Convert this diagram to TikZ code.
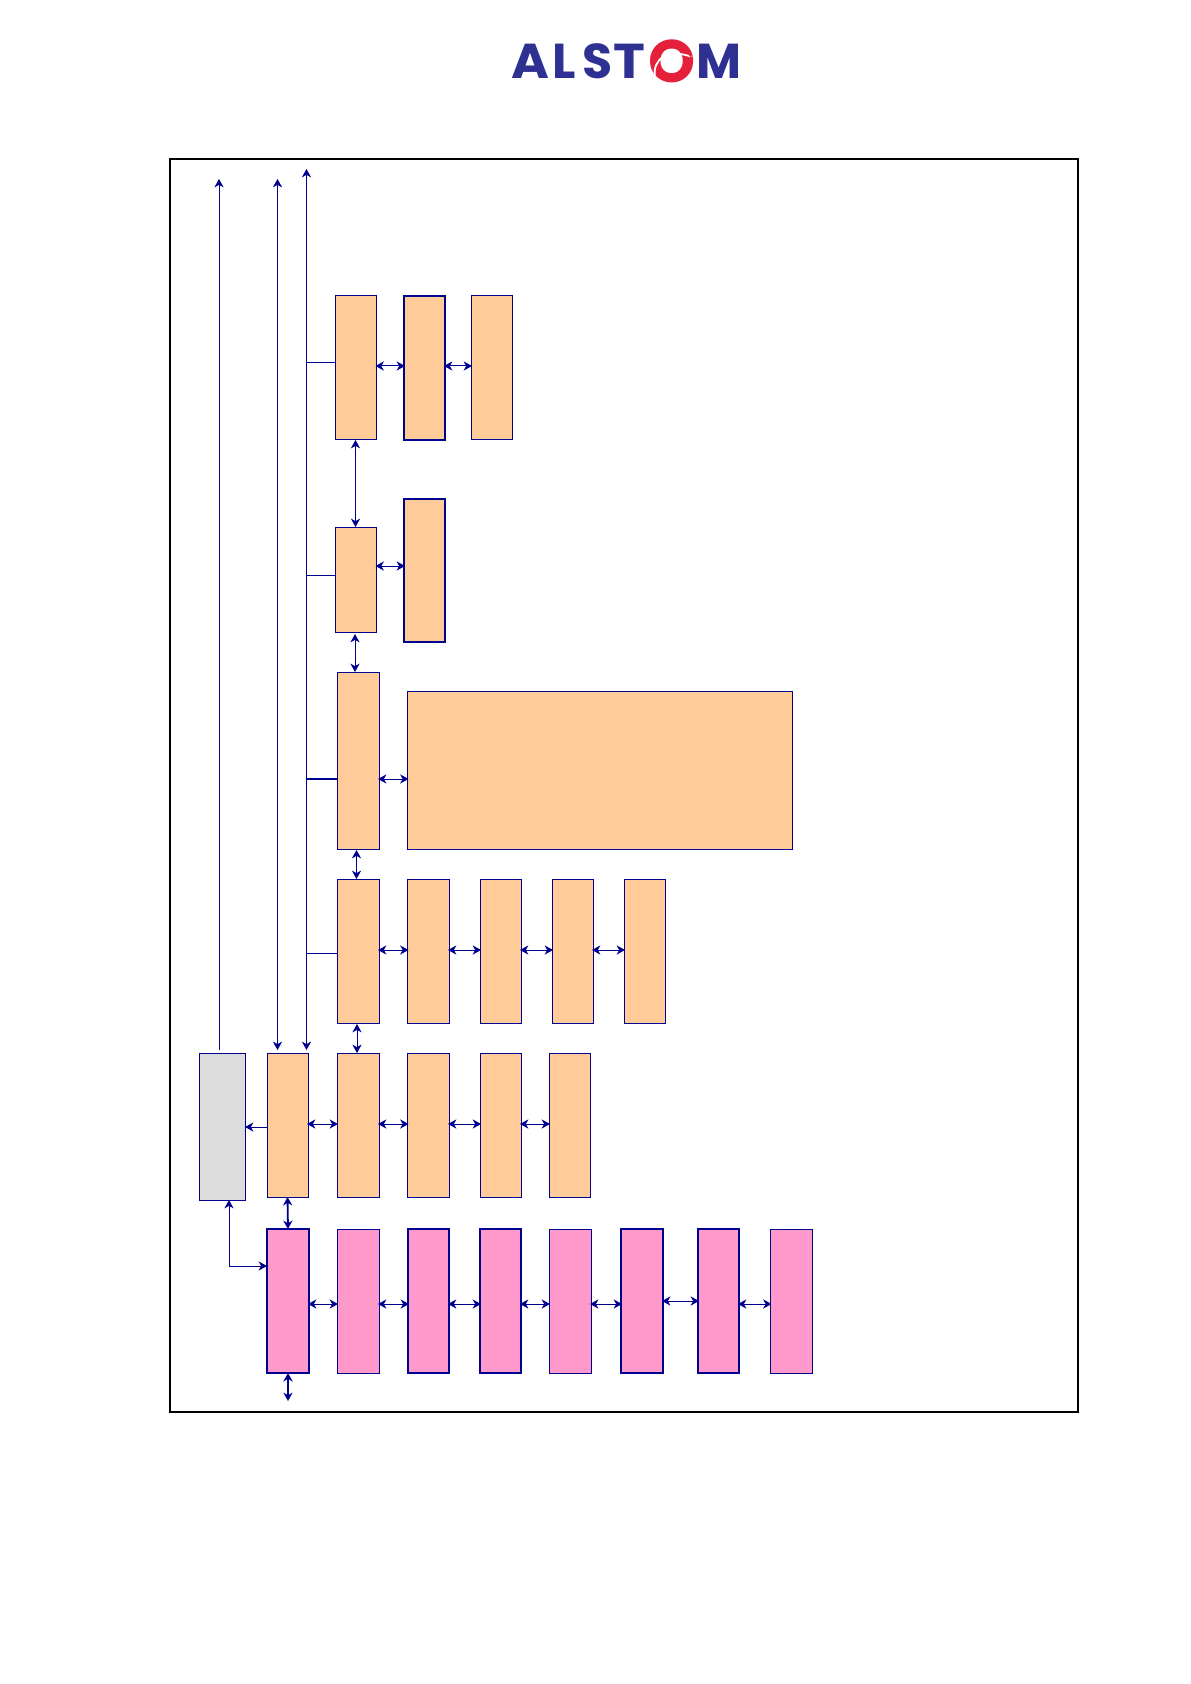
\documentclass[tikz,border=0pt]{standalone}
\usepackage{fontspec}
\newfontfamily\logofont{Poppins}
\usepackage{xcolor}
\usetikzlibrary{arrows.meta,fit}
\definecolor{alNavy}{HTML}{000090}
\definecolor{alOrange}{HTML}{FFCC99}
\definecolor{alPink}{HTML}{FF99CC}
\definecolor{alGrey}{HTML}{DCDCDC}
\definecolor{alLogo}{HTML}{2E3192}
\definecolor{alRed}{HTML}{E5203A}
\tikzset{
  al diagram/.style={x=0.5pt, y=-0.5pt, line cap=butt, line join=miter},
  al frame/.style={draw=black, line width=0.95pt, inner sep=0pt, outer sep=0pt},
  al box/.style={draw=alNavy, line width=0.5pt, inner sep=0pt, outer sep=0pt},
  al orange/.style={al box, fill=alOrange},
  al pink/.style={al box, fill=alPink},
  al grey/.style={al box, fill=alGrey},
  al heavy/.style={line width=0.75pt},
  al line/.style={draw=alNavy, line width=0.5pt},
  al tip/.tip={Stealth[length=4.2pt, width=4.6pt, inset=1.3pt]},
  al arrow/.style={al line, -{al tip}},
  al both/.style={al line, {al tip}-{al tip}, shorten <=-0.5pt, shorten >=-0.5pt},
  al thick both/.style={al line, {al tip}-{al tip}, line width=0.9pt},
  al letter/.style={font=\logofont\bfseries\fontsize{24.5}{25}\selectfont, text=alLogo,
    anchor=base west, inner sep=0pt, outer sep=0pt}
}
\begin{document}
\begin{tikzpicture}[al diagram]
\useasboundingbox (0,0) rectangle (1190,1684);
% logo
\node[al letter, xscale=1.05] (logoA) at (511,79) {A};
\node[al letter] (logoL) at (552,79) {L};
\node[al letter] (logoS) at (582,79) {S};
\node[al letter, xscale=1.1] (logoT) at (613,79) {T};
\node[al letter, text=alRed, font=\logofont\bfseries\fontsize{30}{31}\selectfont] (logoO) at (648,83) {O};
\node[al letter] (logoM) at (696,79) {M};
\draw[white, line width=0.9pt] (655,77) .. controls (652,59) and (668,48) .. (692,57);
\draw[alRed, line width=0.7pt] (664,48) .. controls (676,43) and (688,49) .. (692,59);
% frame
\node[al frame, fit={(170,159)(1078,1412)}] (frame) {};
% first row
\node[al orange, fit={(335.5,296)(376.5,440)}] (ra) {};
\node[al orange, al heavy, fit={(404,296)(445,440)}] (rb) {};
\node[al orange, fit={(471,296)(512.5,440)}] (rc) {};
\node[al orange, fit={(335.5,527)(376.5,632)}] (sa) {};
\node[al orange, al heavy, fit={(404,499)(445,642)}] (sb) {};
\node[al orange, fit={(337,672)(379,849)}] (ta) {};
\node[al orange, fit={(407.5,691)(792.5,849)}] (tb) {};
\foreach \boxname/\xa/\xb in {ua/337/379, ub/407.5/449, uc/480/521, ud/552/593, ue/624/665}
  \node[al orange, fit={(\xa,879)(\xb,1023)}] (\boxname) {};
\node[al grey, fit={(199,1053)(245,1200)}] (grey) {};
\foreach \boxname/\xa/\xb in {va/267/308, vb/337/379, vc/407.5/449, vd/480/521, ve/549/590.5}
  \node[al orange, fit={(\xa,1053)(\xb,1197)}] (\boxname) {};
\foreach \boxname/\xa/\xb/\bw in {wa/267/309/0.75pt, wb/337/379/0.5pt, wc/408/449/0.75pt, wd/480/521/0.75pt, we/549/591/0.5pt, wf/621/663/0.6pt, wg/698/739/0.75pt, wh/770.5/812/0.5pt}
  \node[al pink, line width=\bw, fit={(\xa,1229)(\xb,1373)}] (\boxname) {};
% buses
\coordinate (busa) at (219,179);
\coordinate (busb) at (277.5,179);
\coordinate (busc) at (306.5,169);
\coordinate (busaend) at (219,1050);
\coordinate (busbend) at (277.5,1050);
\coordinate (buscend) at (306.5,1050);
\draw[al arrow] (busaend) -- (busa);
\draw[al line, {al tip}-{al tip}] (busb) -- (busbend);
\draw[al line, {al tip}-{al tip}] (busc) -- (buscend);
\draw[al line] (busc |- 0,363) -- (ra.west |- 0,363);
\draw[al line] (busc |- 0,575) -- (sa.west |- 0,575);
\draw[al line, line width=0.9pt] (busc |- 0,779) -- (ta.west |- 0,779);
\draw[al line] (busc |- 0,953) -- (ua.west |- 0,953);
% horizontal links
\draw[al both] (ra.east |- 0,366) -- (rb.west |- 0,366);
\draw[al both] (rb.east |- 0,366) -- (rc.west |- 0,366);
\draw[al both] (sa.east |- 0,566) -- (sb.west |- 0,566);
\draw[al both] (ta.east |- 0,779) -- (tb.west |- 0,779);
\foreach \a/\b in {ua/ub, ub/uc, uc/ud, ud/ue}
  \draw[al both] (\a.east |- 0,950) -- (\b.west |- 0,950);
\foreach \a/\b in {va/vb, vb/vc, vc/vd, vd/ve}
  \draw[al both] (\a.east |- 0,1124) -- (\b.west |- 0,1124);
\foreach \a/\b in {wa/wb, wb/wc, wc/wd, wd/we, we/wf, wg/wh}
  \draw[al both] (\a.east |- 0,1304) -- (\b.west |- 0,1304);
\draw[al both] (wf.east |- 0,1301) -- (wg.west |- 0,1301);
% vertical links
\draw[al line, {al tip}-{al tip}] (355.5,440) -- (355.5,527);
\draw[al line, {al tip}-{al tip}] (355,634) -- (355,672);
\draw[al line, {al tip}-{al tip}] (356.5,850) -- (356.5,879);
\draw[al line, {al tip}-{al tip}] (357,1024) -- (357,1053);
\draw[al thick both] (va.south) -- (wa.north);
\coordinate (wafoot) at (288,1401);
\draw[al thick both] (wa.south) -- (wafoot);
% grey box
\draw[al arrow] (va.west |- 0,1127) -- (grey.east |- 0,1127);
\draw[al line, {al tip}-{al tip}] (229,1200) |- (wa.west |- 0,1266);
\end{tikzpicture}
\end{document}
